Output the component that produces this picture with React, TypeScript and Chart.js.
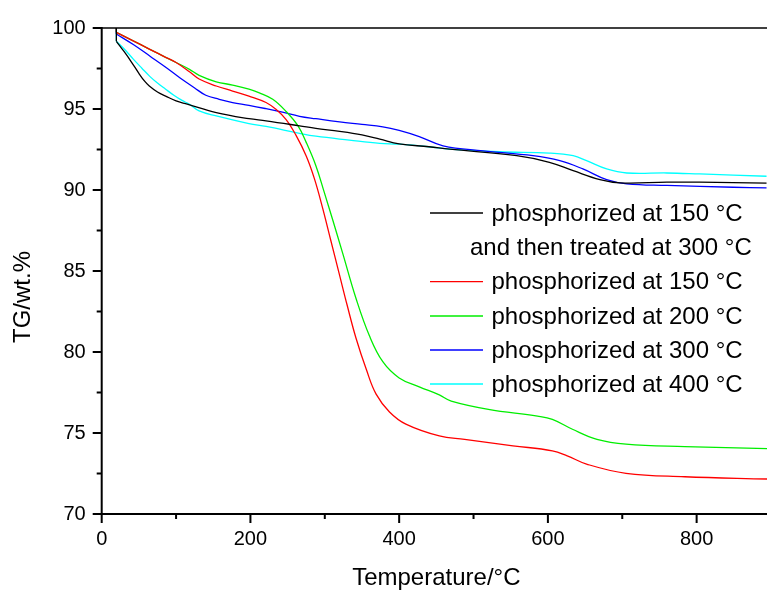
import React, { useEffect, useRef } from "react";
import { Chart, registerables } from "chart.js";

Chart.register(...registerables);

// ---------- data (Temperature / °C  vs  TG / wt.%) ----------
// first two points of each series: vertical start at the first temperature
const tempBlack = [19.7, 19.7, 30, 40, 50, 58, 64, 75, 86, 100, 115, 154, 198, 221, 266, 288, 320, 350, 374, 400, 440, 468, 558, 602, 634, 670, 697, 760, 804, 894];
const tgBlack = [100, 99.18, 98.55, 97.9, 97.2, 96.7, 96.42, 96.05, 95.8, 95.5, 95.3, 94.78, 94.4, 94.27, 93.96, 93.8, 93.62, 93.4, 93.14, 92.85, 92.67, 92.52, 92.12, 91.71, 91.19, 90.64, 90.44, 90.48, 90.48, 90.42];

const tempRed = [19.7, 19.7, 41, 64, 86, 100, 118, 131, 154, 176, 198, 221, 235, 248, 261, 275, 286, 297, 308, 319, 330, 342, 356, 369, 387, 409, 454, 488, 553, 606, 626, 652, 705, 784, 895];
const tgRed = [100, 99.73, 99.24, 98.7, 98.19, 97.87, 97.3, 96.85, 96.42, 96.11, 95.8, 95.4, 94.95, 94.35, 93.4, 92.1, 90.7, 88.9, 86.9, 84.9, 82.9, 80.85, 78.9, 77.4, 76.3, 75.55, 74.82, 74.61, 74.21, 73.9, 73.59, 73.08, 72.51, 72.3, 72.16];

const tempGreen = [19.7, 19.7, 41, 64, 86, 100, 118, 131, 154, 176, 198, 212, 230, 248, 264, 275, 288, 299, 311, 324, 342, 360, 378, 400, 427, 454, 470, 520, 586, 606, 633, 666, 705, 784, 895];
const tgGreen = [100, 99.73, 99.24, 98.7, 98.19, 97.87, 97.45, 97.08, 96.68, 96.48, 96.23, 96.0, 95.6, 94.85, 93.96, 92.94, 91.5, 89.9, 88.1, 86.1, 83.3, 81.0, 79.4, 78.4, 77.85, 77.35, 76.97, 76.46, 76.04, 75.84, 75.23, 74.61, 74.31, 74.16, 74.04];

const tempBlue = [19.7, 19.7, 42.5, 65, 87, 105, 125, 140, 158, 176, 198, 221, 243, 266, 288, 320, 350, 378, 400, 427, 459, 513, 580, 616, 647, 679, 706, 760, 849, 894];
const tgBlue = [100, 99.63, 98.98, 98.26, 97.55, 96.93, 96.3, 95.85, 95.6, 95.4, 95.23, 95.02, 94.8, 94.55, 94.4, 94.2, 94.05, 93.9, 93.68, 93.3, 92.73, 92.42, 92.12, 91.81, 91.3, 90.64, 90.38, 90.28, 90.17, 90.13];

const tempCyan = [19.7, 19.7, 30, 42.5, 54, 65, 75, 86, 97, 108, 118, 131, 154, 198, 221, 266, 288, 333, 374, 400, 440, 468, 535, 602, 634, 652, 679, 706, 760, 804, 894];
const tgCyan = [100, 99.18, 98.72, 98.08, 97.52, 97.0, 96.6, 96.22, 95.85, 95.53, 95.29, 94.88, 94.57, 94.1, 93.93, 93.5, 93.32, 93.08, 92.88, 92.83, 92.67, 92.52, 92.36, 92.28, 92.12, 91.81, 91.3, 91.05, 91.05, 90.99, 90.85];

const seriesLabels = [
  ["phosphorized at 150 °C", "and then treated at 300 °C"],
  ["phosphorized at 150 °C"],
  ["phosphorized at 200 °C"],
  ["phosphorized at 300 °C"],
  ["phosphorized at 400 °C"],
];
const seriesColors = ["#000000", "#ff0000", "#00ee00", "#0000ff", "#00ffff"];
const seriesTemps = [tempBlack, tempRed, tempGreen, tempBlue, tempCyan];
const seriesTG = [tgBlack, tgRed, tgGreen, tgBlue, tgCyan];

const xTicksMajor = [0, 200, 400, 600, 800];
const xTicksMinor = [100, 300, 500, 700];
const yTicksMajor = [70, 75, 80, 85, 90, 95, 100];
const yTicksMinor = [72.5, 77.5, 82.5, 87.5, 92.5, 97.5];

const xTitle = "Temperature/°C";
const yTitle = "TG/wt.%";

const FONT = "'Liberation Sans', Arial, Helvetica, sans-serif";
const CW = 780;
const CH = 595;

const decor = {
  id: "decor",
  afterDraw(chart: any) {
    const { ctx, chartArea: a, scales } = chart;
    const xs = scales.x;
    const ys = scales.y;
    ctx.save();
    ctx.strokeStyle = "#000";
    ctx.lineCap = "butt";

    // axis frame
    ctx.lineWidth = 2;
    ctx.beginPath();
    ctx.moveTo(a.left, a.top - 1);
    ctx.lineTo(a.left, a.bottom);
    ctx.moveTo(a.left - 1, a.bottom);
    ctx.lineTo(a.right, a.bottom);
    ctx.stroke();
    ctx.lineWidth = 1.5;
    ctx.beginPath();
    ctx.moveTo(a.left, a.top);
    ctx.lineTo(a.right, a.top);
    ctx.stroke();

    // ticks
    ctx.lineWidth = 2;
    ctx.beginPath();
    xTicksMajor.forEach((v) => {
      const p = xs.getPixelForValue(v);
      ctx.moveTo(p, a.bottom);
      ctx.lineTo(p, a.bottom + 9);
    });
    xTicksMinor.forEach((v) => {
      const p = xs.getPixelForValue(v);
      ctx.moveTo(p, a.bottom);
      ctx.lineTo(p, a.bottom + 5);
    });
    yTicksMajor.forEach((v) => {
      const p = ys.getPixelForValue(v);
      ctx.moveTo(a.left, p);
      ctx.lineTo(a.left - 9, p);
    });
    yTicksMinor.forEach((v) => {
      const p = ys.getPixelForValue(v);
      ctx.moveTo(a.left, p);
      ctx.lineTo(a.left - 5, p);
    });
    ctx.stroke();

    // axis titles
    ctx.fillStyle = "#000";
    ctx.font = `24px ${FONT}`;
    ctx.textAlign = "center";
    ctx.textBaseline = "middle";
    ctx.fillText(xTitle, (a.left + a.right) / 2, 578);
    ctx.save();
    ctx.translate(23, 297);
    ctx.rotate(-Math.PI / 2);
    ctx.fillText(yTitle, 0, 0);
    ctx.restore();

    // legend
    const rowY = [213, 247, 281.7, 316, 350, 384];
    let r = 0;
    ctx.font = `24px ${FONT}`;
    ctx.textAlign = "left";
    seriesLabels.forEach((lines, i) => {
      lines.forEach((txt, j) => {
        const yy = rowY[r];
        if (j === 0) {
          ctx.strokeStyle = seriesColors[i];
          ctx.lineWidth = 1.3;
          ctx.beginPath();
          ctx.moveTo(430, yy);
          ctx.lineTo(483, yy);
          ctx.stroke();
          ctx.fillText(txt, 491.5, yy + 1);
        } else {
          ctx.fillText(txt, 470, yy + 1);
        }
        r++;
      });
    });
    ctx.restore();
  },
};

export default function App() {
  const ref = useRef<HTMLCanvasElement | null>(null);
  useEffect(() => {
    document.body.style.margin = "0";
    document.body.style.overflow = "hidden";
    if (!ref.current) return;
    const datasets: any[] = [];
    seriesTemps.forEach((temps, i) => {
      const pts = temps.map((t, k) => ({ x: t, y: seriesTG[i][k] }));
      // vertical start segment
      datasets.push({
        label: seriesLabels[i].join(" ") + " (start)",
        data: pts.slice(0, 2),
        borderColor: seriesColors[i],
        borderWidth: 1.3,
        pointRadius: 0,
        fill: false,
        tension: 0,
      });
      // main curve
      datasets.push({
        label: seriesLabels[i].join(" "),
        data: pts.slice(1),
        borderColor: seriesColors[i],
        borderWidth: 1.3,
        pointRadius: 0,
        fill: false,
        tension: 0.4,
      });
    });
    const chart = new Chart(ref.current, {
      type: "line",
      data: { datasets },
      options: {
        responsive: false,
        animation: false,
        events: [],
        layout: { padding: { left: 0, top: 25, right: CW - 771, bottom: 0 } },
        plugins: { legend: { display: false }, tooltip: { enabled: false } },
        scales: {
          x: {
            type: "linear",
            min: 0,
            max: 900,
            grid: { display: false, drawTicks: false },
            border: { display: false },
            ticks: {
              stepSize: 200,
              padding: 13,
              color: "#000",
              font: { family: FONT, size: 20 },
              maxRotation: 0,
            },
            afterBuildTicks: (s: any) => {
              s.ticks = xTicksMajor.map((v) => ({ value: v }));
            },
            afterFit: (s: any) => {
              s.height = CH - 514;
            },
          },
          y: {
            type: "linear",
            min: 70,
            max: 100,
            grid: { display: false, drawTicks: false },
            border: { display: false },
            ticks: {
              stepSize: 5,
              padding: 16,
              color: "#000",
              font: { family: FONT, size: 20 },
            },
            afterBuildTicks: (s: any) => {
              s.ticks = yTicksMajor.map((v) => ({ value: v }));
            },
            afterFit: (s: any) => {
              s.width = 101.7;
            },
          },
        },
      },
      plugins: [decor],
    });
    return () => chart.destroy();
  }, []);
  return (
    <div style={{ width: 767, height: CH, overflow: "hidden", position: "relative", background: "#fff" }}>
      <canvas ref={ref} width={CW} height={CH} style={{ width: CW, height: CH, display: "block" }} />
    </div>
  );
}
